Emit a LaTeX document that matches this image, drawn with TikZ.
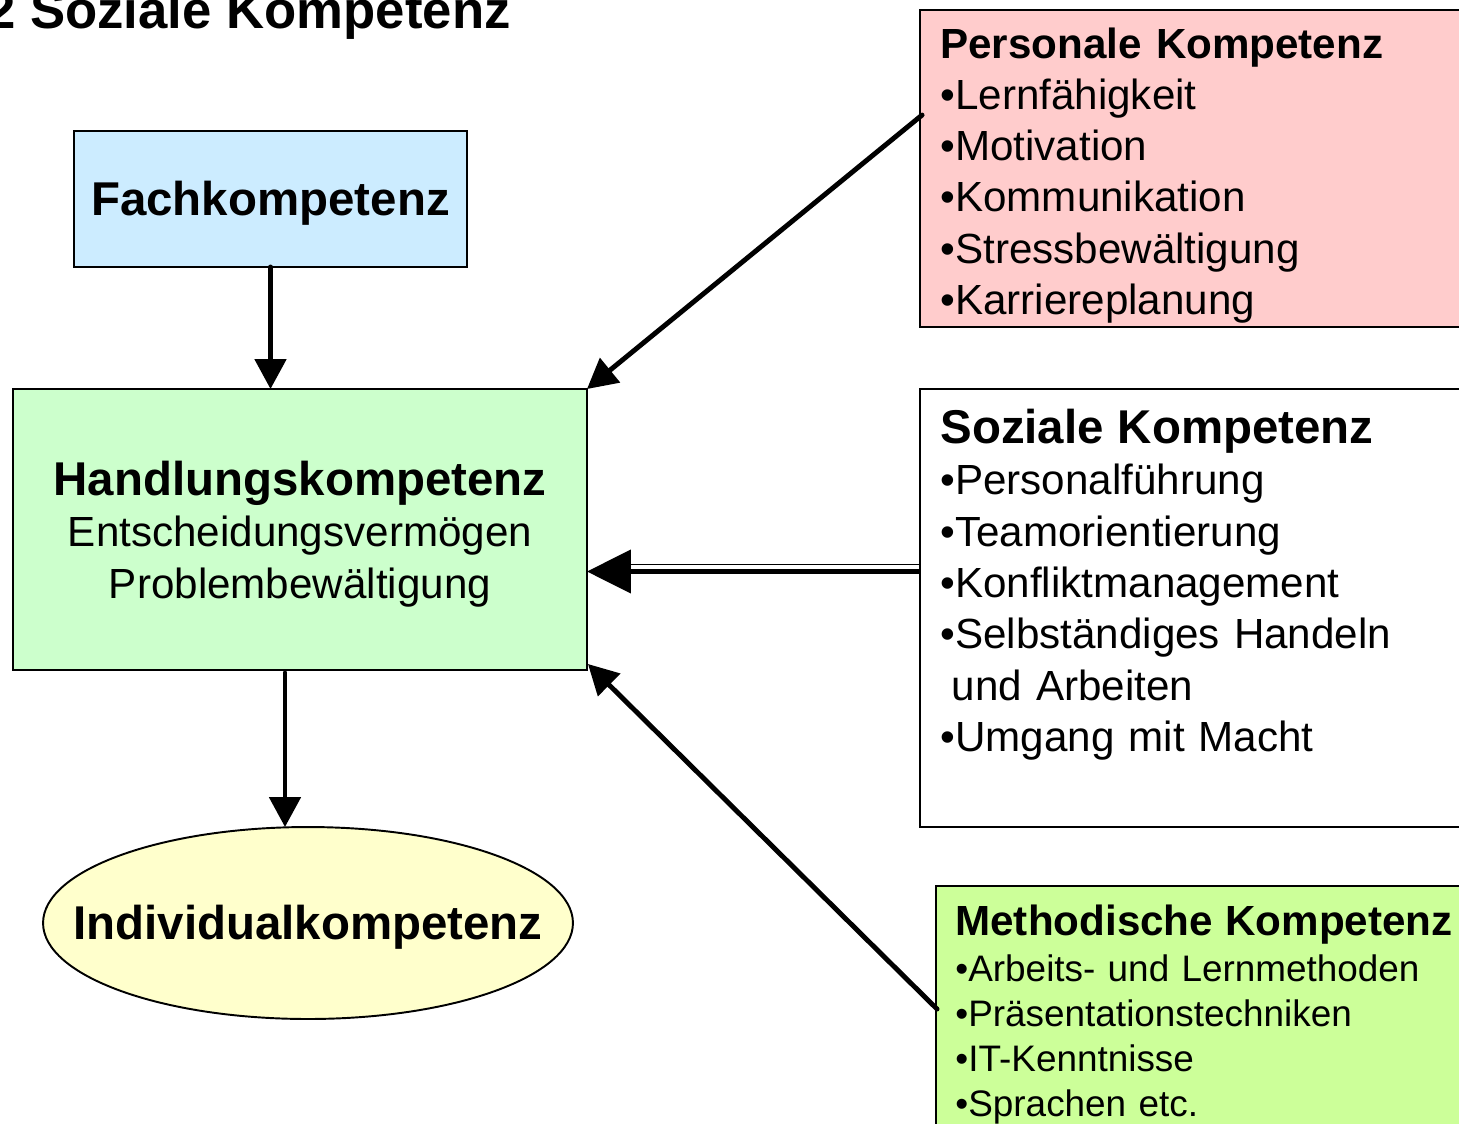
\documentclass[tikz,border=0pt]{standalone}
\usepackage{fontspec}
\setmainfont{Liberation Sans}
\usetikzlibrary{arrows.meta, positioning, shapes.geometric, calc}

\definecolor{fachblue}{HTML}{CCECFF}
\definecolor{handgreen}{HTML}{CCFFCC}
\definecolor{indivyellow}{HTML}{FFFFCC}
\definecolor{perspink}{HTML}{FFCCCC}
\definecolor{methgreen}{HTML}{CCFF99}

\begin{document}
\begin{tikzpicture}[
            x=0.02cm, y=-0.02cm,
            box/.style={draw, line width=1.1pt, inner sep=0pt, outer sep=0pt},
            heading/.style={font=\fontsize{27}{29}\selectfont\bfseries},
            listtext/.style={anchor=base west, inner sep=0pt, text width=10.6cm, align=left},
            link/.style={draw, line width=2.8pt, line cap=round, -{Triangle[length=17pt, width=17.6pt]}},
            biglink/.style={draw, line width=2.6pt, -{Triangle[length=25pt, width=24.4pt]}}
        ]

            \useasboundingbox (0,0) rectangle (1459,1123);
            \clip (0,0) rectangle (1459,1123);

            % Title (cut at the left edge)
            \node[anchor=base west, inner sep=0pt, font=\fontsize{30}{36}\selectfont\bfseries] (title) at (-14,28) {2 Soziale Kompetenz};

            % Left column
            \node[box, fill=fachblue, minimum width=7.86cm, minimum height=2.72cm,
                  label={[heading, yshift=-2.6pt]center:Fachkompetenz}] (fach) at (270.5,199) {};
            \node[box, fill=handgreen, minimum width=11.48cm, minimum height=5.62cm,
                  label={[align=center, font=\fontsize{24}{29.3}\selectfont, yshift=-2.6pt]center:
                  {\fontsize{27}{29.3}\selectfont\bfseries Handlungskompetenz}\\Entscheidungsvermögen\\Problembewältigung}] (hand) at (300,529.5) {};
            \node[box, ellipse, fill=indivyellow, minimum width=10.6cm, minimum height=3.84cm,
                  label={[heading, yshift=-2.6pt]center:Individualkompetenz}] (indiv) at (308,923) {};

            % Right column
            \node[box, fill=perspink, minimum width=11.2cm, minimum height=6.34cm] (pers) at (1200,168.5) {};
            \node[box, fill=white, minimum width=11.2cm, minimum height=8.76cm] (soz) at (1200,608) {};
            \node[box, fill=methgreen, minimum width=10.88cm, minimum height=5.08cm] (meth) at (1208,1013) {};

            \node[listtext, font=\fontsize{24}{29.2}\selectfont] (perstext) at ([shift={(20,48)}]pers.north west)
                 {\textbf{Personale Kompetenz}\\•Lernfähigkeit\\•Motivation\\•Kommunikation\\•Stressbewältigung\\•Karriereplanung};
            \node[listtext, font=\fontsize{24}{29.3}\selectfont] (soztext) at ([shift={(20,54)}]soz.north west)
                 {{\fontsize{27}{29.3}\selectfont\bfseries Soziale Kompetenz}\\•Personalführung\\•Teamorientierung\\•Konfliktmanagement\\•Selbständiges Handeln\\\hspace*{6.5pt}und Arbeiten\\•Umgang mit Macht};
            \node[listtext, font=\fontsize{21}{25.5}\selectfont] (methtext) at ([shift={(19,49)}]meth.north west)
                 {{\fontsize{24}{29}\selectfont\bfseries Methodische Kompetenz}\\[1pt]•Arbeits- und Lernmethoden\\•Präsentationstechniken\\•IT-Kenntnisse\\•Sprachen etc.};

            % Arrows
            \coordinate (handout) at ([shift={(-15,3)}]hand.south);
            \coordinate (persin) at ([shift={(2,105)}]pers.north west);
            \coordinate (handin) at ([shift={(0,42)}]hand.east);
            \coordinate (methin) at ([shift={(1,123)}]meth.north west);

            \draw[link] (fach.south) -- (fach.south |- hand.north);
            \draw[link] (handout) -- (indiv.north -| handout);
            \draw[link] (persin) -- (hand.north east);
            \draw[link] (methin) -- ([shift={(1,-6)}]hand.south east);
            \draw[biglink] (soz.west |- handin) -- (handin);
            \draw[line width=0.9pt] ($(soz.west |- handin)+(0,-7)$) -- ($(handin)+(44,-7)$);

        \end{tikzpicture}
\end{document}
